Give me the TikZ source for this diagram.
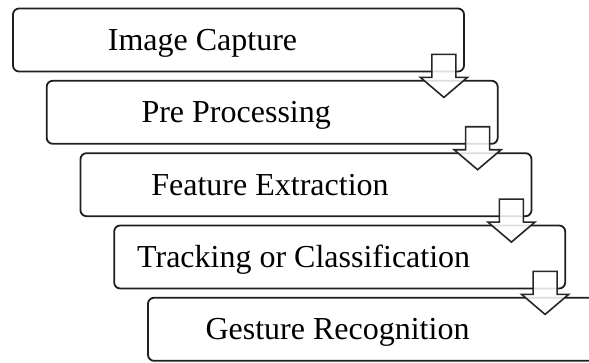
\documentclass[tikz,border=0pt]{standalone}
\usepackage{fontspec}
\setmainfont{Liberation Serif}
\begin{document}
\begin{tikzpicture}[x=1pt,y=-1pt,
  stage/.style={draw=black!88, line width=1.8pt, rounded corners=6pt, minimum width=451pt, minimum height=63pt, inner sep=0pt},
  lbl/.style={anchor=base, inner sep=0pt, font=\fontsize{32}{38}\selectfont},
  blockarrow/.style={draw=black!85, line width=1.6pt, fill=white, fill opacity=0.85, line join=miter}]
\useasboundingbox (0,0) rectangle (589,362);
\begin{scope}
\clip (0,0) rectangle (589,362);
\node[stage] (b1) at (238.5,40) {};
\node[stage] (b2) at (272.2,112.3) {};
\node[stage] (b3) at (306,184.7) {};
\node[stage] (b4) at (339.7,257) {};
\node[stage] (b5) at (373.5,329.3) {};
\node[lbl] (l1) at ([shift={(-36,10.5)}]b1.center) {Image Capture};
\node[lbl] (l2) at ([shift={(-36,10.5)}]b2.center) {Pre Processing};
\node[lbl] (l3) at ([shift={(-36,10.5)}]b3.center) {Feature Extraction};
\node[lbl] (l4) at ([shift={(-36,10.5)}]b4.center) {Tracking or Classification};
\node[lbl] (l5) at ([shift={(-36,10.5)}]b5.center) {Gesture Recognition};
\foreach \i in {1,2,3,4}{
  \coordinate (t\i) at ([shift={(-21,25)}]b\i.south east);
  \draw[blockarrow] (t\i) -- ++(-23.5,-20) -- ++(11.5,0) -- ++(0,-23) -- ++(24,0) -- ++(0,23) -- ++(11.5,0) -- cycle;
}
\end{scope}
\end{tikzpicture}
\end{document}
